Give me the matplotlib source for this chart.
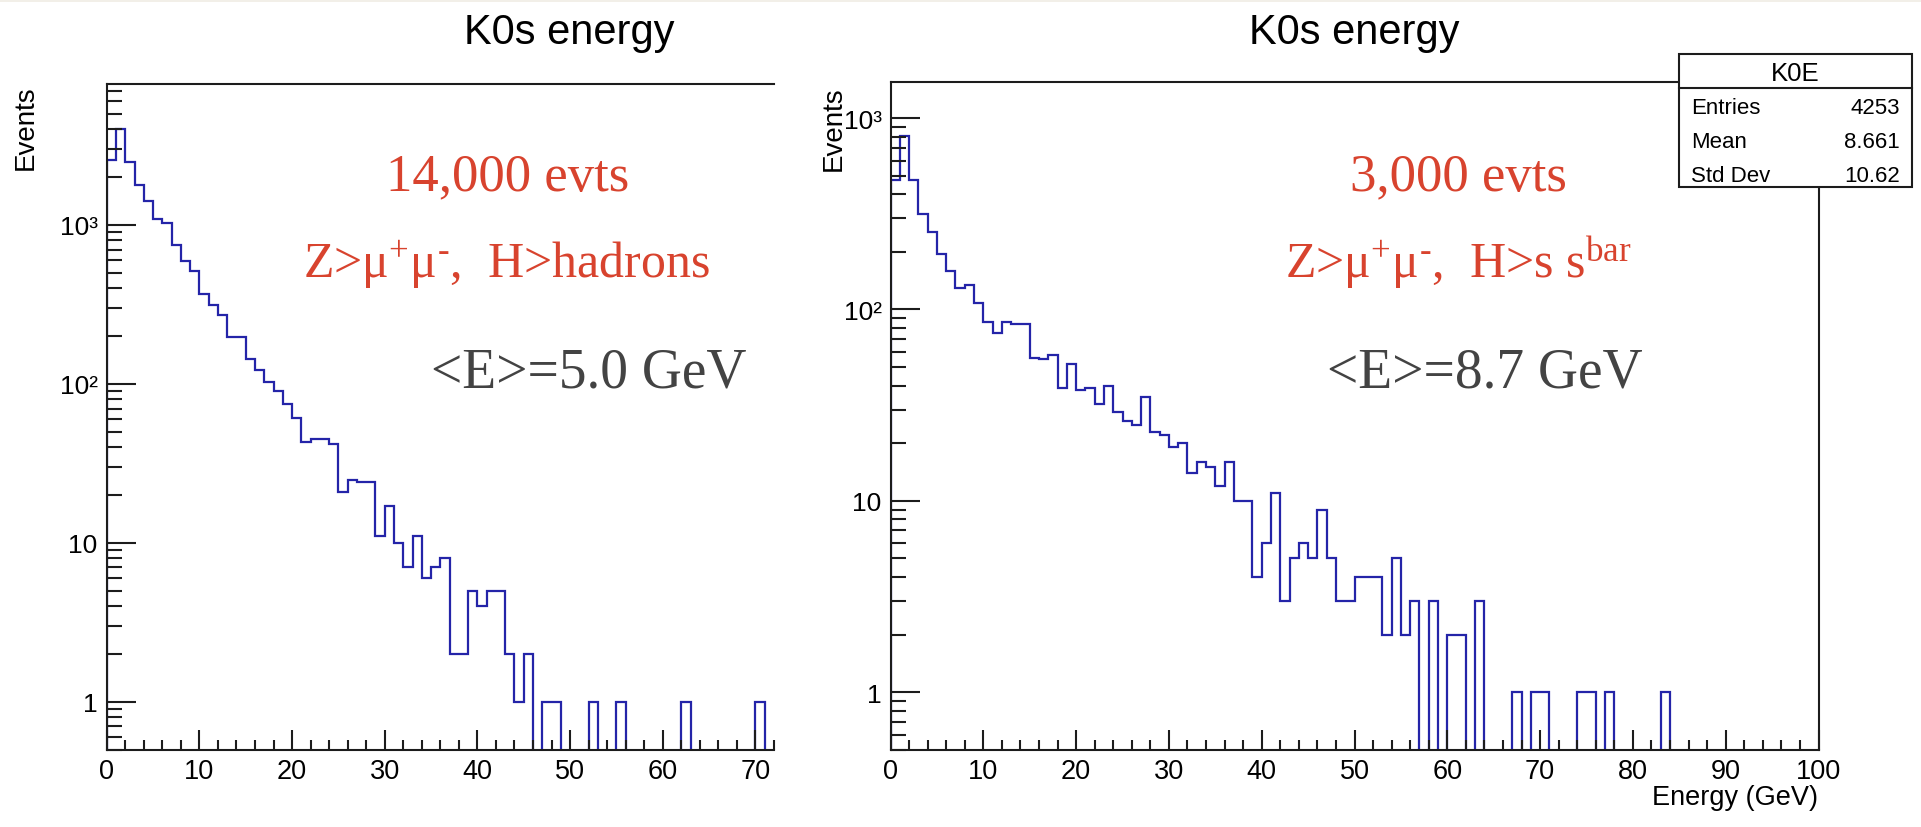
import numpy as np
import matplotlib
matplotlib.use("Agg")
import matplotlib.pyplot as plt
from matplotlib.ticker import MultipleLocator, LogLocator, FixedLocator, FuncFormatter, NullFormatter
from matplotlib.patches import Rectangle
from matplotlib.lines import Line2D

# ---------------------------------------------------------------- data
# K0s energy spectra, 1 GeV bins starting at 0 GeV
hadrons_counts = [
    2560, 4040, 2490, 1775, 1413, 1095, 1023, 751, 596, 510,
    367, 315, 270, 196, 196, 143, 122, 103, 90, 75,
    61, 43, 45, 45, 42, 21, 25, 24, 24, 11,
    17, 10, 7, 11, 6, 7, 8, 2, 2, 5,
    4, 5, 5, 2, 1, 2, 0, 1, 1, 0,
    0, 0, 1, 0, 0, 1, 0, 0, 0, 0,
    0, 0, 1, 0, 0, 0, 0, 0, 0, 0,
    1, 0,
]
ssbar_counts = [
    478, 811, 478, 314, 254, 196, 159, 130, 134, 108,
    86, 75, 86, 84, 84, 56, 55, 58, 39, 52,
    38, 39, 32, 40, 29, 26, 25, 35, 23, 22,
    19, 20, 14, 16, 15, 12, 16, 10, 10, 4,
    6, 11, 3, 5, 6, 5, 9, 5, 3, 3,
    4, 4, 4, 2, 5, 2, 3, 0, 3, 0,
    2, 2, 0, 3, 0, 0, 0, 1, 0, 1,
    1, 0, 0, 0, 1, 1, 0, 1, 0, 0,
    0, 0, 0, 1, 0, 0, 0, 0, 0, 0,
    0, 0, 0, 0, 0, 0, 0, 0, 0, 0,
]
bin_width = 1.0
x_ranges = [(0, 72), (0, 100)]
y_ranges = [(0.5, 7700), (0.5, 1540)]
y_major = [1, 10, 100, 1000]
y_major_labels = ["1", "10", "10\u00b2", "10\u00b3"]

title_text = "K0s energy"
y_label = "Events"
x_label = "Energy (GeV)"

left_notes = ["14,000 evts",
              r"$\text{Z>}\mathrm{\mu}^{\text{+}}\mathrm{\mu}^{\text{-}}\text{,  H>hadrons}$",
              "<E>=5.0 GeV"]
right_notes = ["3,000 evts",
               r"$\text{Z>}\mathrm{\mu}^{\text{+}}\mathrm{\mu}^{\text{-}}\text{,  H>s s}^{\text{bar}}$",
               "<E>=8.7 GeV"]

stats_name = "K0E"
stats_rows = ["Entries", "Mean", "Std Dev"]
stats_vals = ["4253", "8.661", "10.62"]

# ---------------------------------------------------------------- style
W, H, DPI = 1921, 828, 100
SANS = "Liberation Sans"
SERIF = "Liberation Serif"
HIST_COLOR = "#2424a8"
RED = "#d8432e"
GREY = "#434343"
INK = "#1c1c1c"

plt.rcParams["font.family"] = [SANS, "DejaVu Sans"]
plt.rcParams["mathtext.fontset"] = "custom"
plt.rcParams["mathtext.rm"] = SERIF
plt.rcParams["mathtext.it"] = SERIF + ":italic"
plt.rcParams["mathtext.bf"] = SERIF + ":bold"


def fx(px):
    return px / W


def fy(py):
    return 1.0 - py / H


def px2pt(px):
    return px * 72.0 / DPI


fig = plt.figure(figsize=(W / DPI, H / DPI), dpi=DPI, facecolor="white")

# thin light strip along the top edge
fig.add_artist(Rectangle((0, fy(3)), 1, 3 / H, transform=fig.transFigure,
                         facecolor="#f2efe8", edgecolor="none", zorder=0))

axL = fig.add_axes([fx(106.7), fy(750.7), fx(774) - fx(106.7), fy(85) - fy(750.7)])
axR = fig.add_axes([fx(890.5), fy(750.7), fx(1818.5) - fx(890.5), fy(83.3) - fy(750.7)])


def label_fmt(v, pos):
    for val, lab in zip(y_major, y_major_labels):
        if np.isclose(v, val):
            return lab
    return ""


def draw_panel(ax, counts, xr, yr):
    vals = np.asarray(counts, dtype=float)
    edges = np.arange(len(vals) + 1) * bin_width
    floor = 1e-3
    ax.stairs(np.where(vals > 0, vals, floor), edges, baseline=floor,
              color=HIST_COLOR, lw=1.6)
    ax.set_yscale("log")
    ax.set_xlim(*xr)
    ax.set_ylim(*yr)
    ax.xaxis.set_major_locator(MultipleLocator(10))
    ax.xaxis.set_minor_locator(MultipleLocator(2))
    ax.yaxis.set_major_locator(FixedLocator(y_major))
    ax.yaxis.set_minor_locator(LogLocator(base=10, subs=np.arange(2, 10), numticks=60))
    ax.yaxis.set_major_formatter(FuncFormatter(label_fmt))
    ax.yaxis.set_minor_formatter(NullFormatter())
    ax.tick_params(which="both", direction="in", top=False, right=False,
                   width=1.5, color=INK, labelcolor="black")
    ax.tick_params(axis="y", which="major", length=px2pt(29), pad=px2pt(9), labelsize=19)
    ax.tick_params(axis="y", which="minor", length=px2pt(15))
    ax.tick_params(axis="x", which="major", length=px2pt(20), pad=px2pt(8), labelsize=19.5)
    ax.tick_params(axis="x", which="minor", length=px2pt(10))
    for sp in ax.spines.values():
        sp.set_linewidth(1.5)
        sp.set_color(INK)


draw_panel(axL, hadrons_counts, x_ranges[0], y_ranges[0])
draw_panel(axR, ssbar_counts, x_ranges[1], y_ranges[1])
axL.spines["right"].set_visible(False)

# titles and axis labels
fig.text(fx(569), fy(44), title_text, ha="center", va="baseline", fontsize=30)
fig.text(fx(1354), fy(44), title_text, ha="center", va="baseline", fontsize=30)
fig.text(fx(26), fy(85), y_label, rotation=90, ha="center", va="top", fontsize=20)
fig.text(fx(834), fy(86), y_label, rotation=90, ha="center", va="top", fontsize=20)
fig.text(fx(1818.3), fy(805), x_label, ha="right", va="baseline", fontsize=19.5)

# annotations
note_colors = [RED, RED, GREY]
note_sizes = [38, 36, 40]
left_pos = [(508, 190), (507, 278), (589, 388)]
right_pos = [(1458, 190), (1458, 278), (1485, 387)]
for txt, (x, y), c, s in zip(left_notes, left_pos, note_colors, note_sizes):
    fig.text(fx(x), fy(y), txt, ha="center", va="baseline", color=c,
             fontsize=s, family=[SERIF, "DejaVu Serif"])
for txt, (x, y), c, s in zip(right_notes, right_pos, note_colors, note_sizes):
    fig.text(fx(x), fy(y), txt, ha="center", va="baseline", color=c,
             fontsize=s, family=[SERIF, "DejaVu Serif"])

# statistics box
bx0, bx1, by0, by1, bsep = 1679.3, 1911.7, 55.0, 187.7, 89.3
fig.add_artist(Rectangle((fx(bx0), fy(by1)), fx(bx1) - fx(bx0), fy(by0) - fy(by1),
                         transform=fig.transFigure, facecolor="white",
                         edgecolor=INK, lw=1.5, zorder=5))
fig.add_artist(Line2D([fx(bx0), fx(bx1)], [fy(bsep), fy(bsep)],
                      transform=fig.transFigure, color=INK, lw=1.5, zorder=6))
fig.text(fx((bx0 + bx1) / 2), fy(74), stats_name, ha="center", va="center",
         fontsize=18.5, zorder=7)
for i, (name, val) in enumerate(zip(stats_rows, stats_vals)):
    base = 114.5 + i * 33.7
    fig.text(fx(1690.7), fy(base), name, ha="left", va="baseline", fontsize=16, zorder=7)
    fig.text(fx(1900), fy(base), val, ha="right", va="baseline", fontsize=16, zorder=7)

fig.savefig("out.png", dpi=DPI, facecolor="white")
